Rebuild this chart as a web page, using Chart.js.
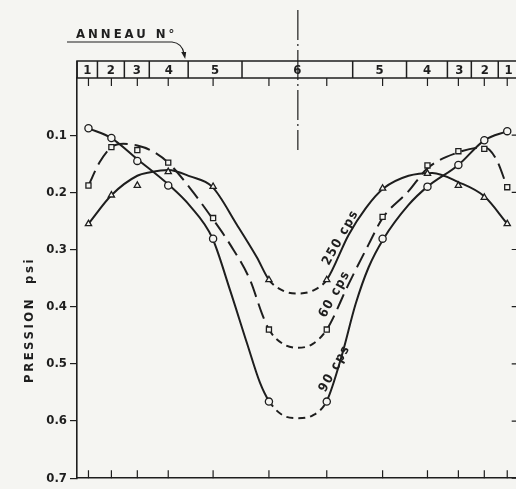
<!DOCTYPE html>
<html>
<head>
<meta charset="utf-8">
<script src="https://cdn.jsdelivr.net/npm/chart.js@4/dist/chart.umd.min.js"></script>
<style>
    html, body { margin: 0; padding: 0; background: #f5f5f2; overflow: hidden; }
    #wrap { width: 516px; height: 489px; overflow: hidden; }
</style>
</head>
<body>
<div id="wrap"><canvas id="chart" width="524" height="489"></canvas></div>
<script>
// positions des prises de pression (0 = milieu, anneau 6)
const positions = [-210, -187, -161, -130, -85, -29, 29, 85, 130, 161, 187, 210];
const p90 = [0.088, 0.105, 0.145, 0.188, 0.281, 0.566, 0.566, 0.281, 0.19, 0.152, 0.109, 0.093];
const p60 = [0.188, 0.121, 0.126, 0.148, 0.245, 0.44, 0.44, 0.243, 0.153, 0.128, 0.124, 0.191];
const p250 = [0.255, 0.205, 0.188, 0.164, 0.19, 0.353, 0.353, 0.193, 0.167, 0.188, 0.209, 0.255];

// courbes tracees, lues le long du trait
const curveX90 = [-210, -187, -161, -130, -108, -86, -68, -51, -38, -29, -15, 0, 15, 29, 44, 58, 71, 86, 111, 130, 161, 187, 210];
const curveY90 = [0.088, 0.105, 0.142, 0.186, 0.224, 0.279, 0.371, 0.464, 0.533, 0.565, 0.59, 0.595, 0.59, 0.565, 0.486, 0.395, 0.331, 0.281, 0.222, 0.19, 0.152, 0.109, 0.093];
const curveX60 = [-210, -199, -187, -175, -161, -148, -130, -108, -86, -68, -48, -36, -29, -15, 0, 15, 29, 51, 71, 85, 111, 130, 161, 187, 199, 210];
const curveY60 = [0.188, 0.148, 0.121, 0.115, 0.118, 0.126, 0.148, 0.193, 0.245, 0.291, 0.353, 0.412, 0.44, 0.465, 0.472, 0.465, 0.44, 0.36, 0.291, 0.245, 0.198, 0.158, 0.13, 0.121, 0.142, 0.191];
const curveX250 = [-210, -187, -161, -148, -130, -108, -86, -61, -41, -29, -15, 0, 15, 29, 51, 68, 86, 111, 135, 161, 187, 210];
const curveY250 = [0.255, 0.205, 0.171, 0.165, 0.161, 0.172, 0.19, 0.257, 0.314, 0.353, 0.372, 0.377, 0.372, 0.353, 0.274, 0.228, 0.193, 0.171, 0.166, 0.182, 0.207, 0.255];

// anneaux
const ringEdges = [-221.5, -201, -174, -149, -110, -56, 55, 109, 150, 174, 201, 221.5];
const ringNames = ['1', '2', '3', '4', '5', '6', '5', '4', '3', '2', '1'];
const yTicks = [0.1, 0.2, 0.3, 0.4, 0.5, 0.6, 0.7];

const ink = '#1e1e1e';
const paper = '#f5f5f2';
const labelFont = '"DejaVu Sans Condensed", "DejaVu Sans", sans-serif';

function pairs(xs, ys) {
    return xs.map((x, i) => ({ x: x, y: ys[i] }));
}
// tirets courts au fond de la cuvette
function dash(base) {
    return ctx => (Math.abs(ctx.p0.parsed.x) <= 30 && Math.abs(ctx.p1.parsed.x) <= 30) ? [7, 5] : base;
}
function lineSet(data, base) {
    return {
        data: data, showLine: true, pointRadius: 0, borderColor: ink, borderWidth: 2,
        cubicInterpolationMode: 'monotone', borderDash: base,
        segment: { borderDash: dash(base) }, order: 2
    };
}
function markSet(data, style) {
    return {
        data: data, showLine: false, pointStyle: style, pointRadius: 3.6,
        pointBorderWidth: 1.3, pointBorderColor: ink, pointBackgroundColor: paper, order: 0
    };
}

const curveLabels = [
    { text: '250 cps', x: 43, y: 0.279 },
    { text: '60 cps', x: 37, y: 0.378 },
    { text: '90 cps', x: 37, y: 0.508 }
];

const decor = {
    id: 'decor',
    beforeDraw(chart) {
        const c = chart.ctx;
        c.save();
        c.fillStyle = paper;
        c.fillRect(0, 0, chart.width, chart.height);
        c.restore();
    },
    afterDraw(chart) {
        const c = chart.ctx;
        const xs = chart.scales.x, ys = chart.scales.y;
        const a = chart.chartArea;
        c.save();
        c.strokeStyle = ink;
        c.fillStyle = ink;
        c.lineWidth = 1.5;

        // bande des anneaux
        const bandTop = 61;
        c.strokeRect(a.left, bandTop, a.right - a.left, a.top - bandTop);
        c.beginPath();
        ringEdges.forEach(e => {
            const px = xs.getPixelForValue(e);
            c.moveTo(px, bandTop);
            c.lineTo(px, a.top);
        });
        c.stroke();
        c.font = 'bold 13px ' + labelFont;
        c.textAlign = 'center';
        c.textBaseline = 'middle';
        ringNames.forEach((n, i) => {
            const mid = (xs.getPixelForValue(ringEdges[i]) + xs.getPixelForValue(ringEdges[i + 1])) / 2;
            c.fillText(n, mid, (bandTop + a.top) / 2 + 1);
        });

        // cadre droit
        c.beginPath();
        c.moveTo(a.right, a.top);
        c.lineTo(a.right, a.bottom);
        c.stroke();

        // graduations haut et bas
        c.lineWidth = 1.2;
        c.beginPath();
        positions.forEach(p => {
            const px = xs.getPixelForValue(p);
            c.moveTo(px, a.top);
            c.lineTo(px, a.top + 8);
            c.moveTo(px, a.bottom);
            c.lineTo(px, a.bottom - 8);
        });
        yTicks.forEach(t => {
            const py = ys.getPixelForValue(t);
            c.moveTo(a.right, py);
            c.lineTo(a.right - 7, py);
        });
        c.stroke();

        // axe de symetrie en trait mixte
        const cx = xs.getPixelForValue(0);
        c.lineWidth = 1.2;
        c.setLineDash([30, 4, 2, 4]);
        c.beginPath();
        c.moveTo(cx, 10);
        c.lineTo(cx, 150);
        c.stroke();
        c.setLineDash([]);

        // ANNEAU No
        c.font = 'bold 13px ' + labelFont;
        c.letterSpacing = '3px';
        c.textAlign = 'left';
        c.textBaseline = 'alphabetic';
        c.fillText('ANNEAU N°', 76, 38);
        c.letterSpacing = '0px';
        const arrowX = xs.getPixelForValue(ringEdges[4]) - 4;
        c.lineWidth = 1.2;
        c.beginPath();
        c.moveTo(67, 42);
        c.lineTo(172, 42);
        c.quadraticCurveTo(arrowX - 2, 43, arrowX, 54);
        c.stroke();
        c.beginPath();
        c.moveTo(arrowX - 3, 52);
        c.lineTo(arrowX + 1, 59);
        c.lineTo(arrowX + 2, 52);
        c.fill();

        // titre axe vertical
        c.save();
        c.translate(30, 320);
        c.rotate(-Math.PI / 2);
        c.font = 'bold 13px ' + labelFont;
        c.letterSpacing = '2.5px';
        c.textAlign = 'center';
        c.textBaseline = 'middle';
        c.fillText('PRESSION  psi', 0, 0);
        c.restore();

        // etiquettes des courbes
        curveLabels.forEach(l => {
            c.save();
            c.translate(xs.getPixelForValue(l.x), ys.getPixelForValue(l.y));
            c.rotate(-61 * Math.PI / 180);
            c.font = 'bold 13px ' + labelFont;
            c.letterSpacing = '1.5px';
            c.textAlign = 'center';
            c.textBaseline = 'middle';
            c.fillText(l.text, 0, 0);
            c.restore();
        });
        c.restore();
    }
};

new Chart(document.getElementById('chart'), {
    type: 'scatter',
    data: {
        datasets: [
            lineSet(pairs(curveX90, curveY90), []),
            lineSet(pairs(curveX60, curveY60), [16, 7]),
            lineSet(pairs(curveX250, curveY250), []),
            markSet(pairs(positions, p90), 'circle'),
            markSet(pairs(positions, p60), 'rect'),
            markSet(pairs(positions, p250), 'triangle')
        ]
    },
    options: {
        responsive: false,
        animation: false,
        devicePixelRatio: 1,
        layout: { padding: { top: 78, right: 4, bottom: 0, left: 0 } },
        plugins: { legend: { display: false }, tooltip: { enabled: false } },
        scales: {
            x: {
                type: 'linear', min: -221.5, max: 221.5,
                ticks: { display: false },
                grid: { display: false },
                border: { display: true, color: ink, width: 1.6 },
                afterFit: s => { s.height = 5; }
            },
            y: {
                reverse: true, min: 0, max: 0.7,
                afterBuildTicks: s => { s.ticks = yTicks.map(v => ({ value: v })); },
                ticks: {
                    color: ink, padding: 3,
                    font: { family: labelFont, size: 13, weight: 'bold' },
                    callback: v => v.toFixed(1)
                },
                grid: { drawOnChartArea: false, drawTicks: true, tickLength: 7, color: ink, lineWidth: 1.2 },
                border: { display: true, color: ink, width: 1.6 },
                afterFit: s => { s.width = 77; }
            }
        }
    },
    plugins: [decor]
});
</script>
</body>
</html>
